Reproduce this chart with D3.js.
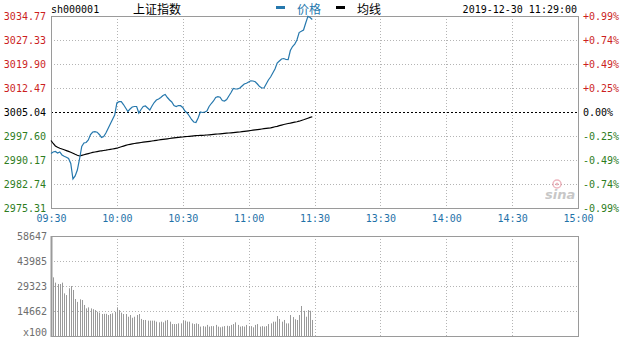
<!DOCTYPE html>
<html><head><meta charset="utf-8">
<script src="https://cdn.jsdelivr.net/npm/d3@7"></script>
<style>body{margin:0;background:#fff}svg{display:block}</style>
</head><body>
<svg id="c" width="621" height="339"></svg>
<script>
const prevClose = 3005.04;
const priceTicks = [3034.77,3027.33,3019.90,3012.47,3005.04,2997.60,2990.17,2982.74,2975.31];
const pctLabels = ["+0.99%","+0.74%","+0.49%","+0.25%","0.00%","-0.25%","-0.49%","-0.74%","-0.99%"];
const timeTicks = [0,30,60,90,120,150,180,210,240];
const timeLabels = ["09:30","10:00","10:30","11:00","11:30","13:30","14:00","14:30","15:00"];
const volTicks = [58647,43985,29323,14662,0];
const volLabels = ["58647","43985","29323","14662","x100"];

const price = [2992.19,2992.66,2992.81,2992.35,2992.66,2991.73,2991.33,2991.02,2990.64,2989.10,
2984.30,2985.23,2987.08,2990.49,2994.36,2995.44,2995.60,2996.37,2998.07,2998.85,
2998.94,2998.79,2998.07,2997.15,2997.46,2998.54,2999.93,3001.32,3002.72,3004.11,
3007.83,3008.23,3008.23,3007.36,3006.28,3005.19,3005.97,3006.59,3006.74,3006.74,
3004.73,3005.81,3006.74,3006.90,3006.28,3005.66,3006.90,3007.98,3008.76,3009.06,
3009.53,3010.15,3010.46,3009.53,3008.76,3008.14,3007.05,3006.74,3007.05,3006.99,
3006.43,3005.35,3004.73,3003.80,3002.72,3001.94,3001.79,3003.18,3005.04,3004.89,
3005.04,3005.35,3006.74,3007.67,3008.45,3009.53,3009.78,3009.62,3008.60,3008.45,
3008.91,3009.99,3011.08,3012.32,3012.16,3012.16,3012.47,3013.09,3013.71,3013.93,
3014.33,3014.70,3014.64,3014.39,3013.71,3012.93,3012.47,3012.47,3013.71,3014.95,
3015.88,3017.11,3018.35,3020.21,3020.83,3021.45,3021.60,3021.29,3021.23,3024.08,
3025.32,3026.09,3027.33,3029.65,3030.02,3030.43,3032.59,3034.67,3034.30,3033.68];

const avgPrice = [2996.22,2995.29,2994.51,2994.11,2993.83,2993.58,2993.34,2993.09,2992.84,2992.56,
2992.28,2991.94,2991.63,2991.42,2991.60,2991.79,2991.97,2992.16,2992.35,2992.53,
2992.66,2992.78,2992.90,2993.03,2993.12,2993.21,2993.34,2993.46,2993.58,2993.71,
2993.83,2994.05,2994.27,2994.48,2994.70,2994.89,2995.04,2995.16,2995.29,2995.41,
2995.50,2995.60,2995.69,2995.78,2995.88,2995.97,2996.06,2996.15,2996.28,2996.37,
2996.46,2996.56,2996.65,2996.74,2996.84,2996.93,2997.02,2997.11,2997.18,2997.24,
2997.30,2997.39,2997.45,2997.52,2997.58,2997.64,2997.70,2997.76,2997.80,2997.83,
2997.86,2997.92,2997.98,2998.04,2998.11,2998.17,2998.23,2998.29,2998.35,2998.41,
2998.48,2998.54,2998.60,2998.66,2998.72,2998.79,2998.85,2998.94,2999.03,2999.13,
2999.22,2999.31,2999.41,2999.50,2999.59,2999.68,2999.78,2999.87,2999.96,3000.06,
3000.15,3000.30,3000.46,3000.61,3000.80,3000.98,3001.17,3001.32,3001.48,3001.60,
3001.76,3001.88,3002.01,3002.19,3002.41,3002.63,3002.87,3003.12,3003.37,3003.58];

const volume = [34800,34400,31300,30500,30500,31300,25000,24000,28000,29300,
27000,21700,20000,21500,21100,18200,16200,16800,16200,15700,
15200,14200,13700,12900,13000,13000,12300,12900,13300,14200,
16800,15200,13700,12900,12900,11300,12300,10700,11300,12300,
12900,10000,9400,9400,9000,9000,9000,9000,8400,8000,
8400,8000,9000,9400,8400,7000,7000,7000,7400,7400,
9000,9000,8400,8400,7400,7000,7400,7000,5500,5800,
5500,6500,5500,5800,5800,6500,5500,5100,5500,5800,
6000,5800,6500,7000,8000,6500,5500,5800,5500,6500,
5800,5800,5100,6500,7000,5500,5800,5500,5800,7000,
7400,8400,8400,11700,10000,8400,9400,7400,7400,12300,
11100,9800,9400,12300,17600,14800,11300,15200,14800,9400];

const svg = d3.select("#c");
const mono = "'DejaVu Sans Mono', 'Liberation Mono', monospace";
const cjk = "'Noto Sans CJK SC', sans-serif";
const L = 51, R = 578;
const x = d3.scaleLinear().domain([0,240]).range([L, R]);
const y = d3.scaleLinear().domain([2975.31, 3034.77]).range([208, 16]);
const yv = d3.scaleLinear().domain([0, 58647]).range([336, 236]);
const crisp = v => Math.round(v) + 0.5;
const gridCol = "#b4b4b4", borderCol = "#9a9a9a";

// --- grids (price panel)
const g1 = svg.append("g");
g1.selectAll("line.h").data(priceTicks.filter(v => v !== prevClose)).enter().append("line")
  .attr("x1", L).attr("x2", R).attr("y1", d => crisp(y(d))).attr("y2", d => crisp(y(d)))
  .attr("stroke", gridCol).attr("stroke-dasharray", "1,2");
g1.selectAll("line.v").data(timeTicks.slice(1, -1)).enter().append("line")
  .attr("x1", d => crisp(x(d))).attr("x2", d => crisp(x(d))).attr("y1", y.range()[1]).attr("y2", y.range()[0])
  .attr("stroke", gridCol).attr("stroke-dasharray", "1,2");
g1.append("line").attr("x1", L).attr("x2", R).attr("y1", crisp(y(prevClose))).attr("y2", crisp(y(prevClose)))
  .attr("stroke", "#000").attr("stroke-dasharray", "2,2");
g1.append("rect").attr("x", L + 0.5).attr("y", 16.5).attr("width", R - L).attr("height", 192)
  .attr("fill", "none").attr("stroke", borderCol);

// --- grids (volume panel)
const g2 = svg.append("g");
g2.selectAll("line.h").data(volTicks.slice(1, -1)).enter().append("line")
  .attr("x1", L).attr("x2", R).attr("y1", d => crisp(yv(d))).attr("y2", d => crisp(yv(d)))
  .attr("stroke", gridCol).attr("stroke-dasharray", "1,2");
g2.selectAll("line.v").data(timeTicks.slice(1, -1)).enter().append("line")
  .attr("x1", d => crisp(x(d))).attr("x2", d => crisp(x(d))).attr("y1", 236).attr("y2", 336)
  .attr("stroke", gridCol).attr("stroke-dasharray", "1,2");

// volume bars
g2.selectAll("line.bar").data(volume).enter().append("line")
  .attr("x1", (d,i) => crisp(x(i))).attr("x2", (d,i) => crisp(x(i)))
  .attr("y1", 336).attr("y2", d => yv(d))
  .attr("stroke", "#999").attr("stroke-width", 1);
g2.append("rect").attr("x", L + 0.5).attr("y", 236.5).attr("width", R - L).attr("height", 100)
  .attr("fill", "none").attr("stroke", borderCol);
g2.append("line").attr("x1", L + 0.5).attr("x2", L + 0.5).attr("y1", 236).attr("y2", 337).attr("stroke", borderCol).attr("stroke-width", 2);

// --- lines
const idx = d3.range(price.length);
svg.append("path").datum(idx)
  .attr("d", d3.line().x(i => x(i)).y(i => y(avgPrice[i])))
  .attr("fill", "none").attr("stroke", "#000").attr("stroke-width", 1.2);
svg.append("path").datum(idx)
  .attr("d", d3.line().x(i => x(i)).y(i => y(price[i])))
  .attr("fill", "none").attr("stroke", "#2678ad").attr("stroke-width", 1.2);

// --- axes
const colorFor = v => v > prevClose ? "#cc1f1f" : (v < prevClose ? "#2e7d1e" : "#000");
const leftAx = svg.append("g").attr("transform", `translate(${L - 5},0)`)
  .call(d3.axisLeft(y).tickValues(priceTicks).tickSize(0).tickPadding(0).tickFormat(d3.format(".2f")));
leftAx.select(".domain").remove();
leftAx.selectAll("text").attr("font-family", mono).attr("font-size", 10).attr("fill", d => colorFor(d));

const rightAx = svg.append("g").attr("transform", `translate(${R + 5},0)`)
  .call(d3.axisRight(d3.scalePoint().domain(pctLabels).range([y(priceTicks[0]), y(priceTicks[priceTicks.length-1])])).tickSize(0).tickPadding(0));
rightAx.select(".domain").remove();
rightAx.selectAll("text").attr("font-family", mono).attr("font-size", 10)
  .attr("fill", (d,i) => colorFor(priceTicks[i]));

const timeAx = svg.append("g").attr("transform", `translate(0,215)`)
  .call(d3.axisBottom(x).tickValues(timeTicks).tickSize(0).tickPadding(0).tickFormat((d,i) => timeLabels[i]));
timeAx.select(".domain").remove();
timeAx.selectAll("text").attr("font-family", mono).attr("font-size", 10).attr("fill", "#1f72a8");

const volAx = svg.append("g").attr("transform", `translate(${L - 4},0)`)
  .call(d3.axisLeft(yv).tickValues(volTicks).tickSize(0).tickPadding(0).tickFormat((d,i) => volLabels[i]));
volAx.select(".domain").remove();
volAx.selectAll("text").attr("font-family", mono).attr("font-size", 10).attr("fill", "#6e6e6e");
volAx.selectAll("text").filter((d,i) => i === volTicks.length - 1).attr("dy", "-0.05em");

// --- header
svg.append("text").attr("x", L).attr("y", 12.5).attr("font-family", mono).attr("font-size", 10).attr("fill", "#000").text("sh000001");
svg.append("text").attr("x", 133).attr("y", 13.5).attr("font-family", cjk).attr("font-size", 12).attr("fill", "#000").text("上证指数");
svg.append("rect").attr("x", 276).attr("y", 6).attr("width", 9).attr("height", 3).attr("fill", "#2678ad");
svg.append("text").attr("x", 297).attr("y", 13.5).attr("font-family", cjk).attr("font-size", 12).attr("fill", "#2678ad").text("价格");
svg.append("rect").attr("x", 336).attr("y", 6).attr("width", 9).attr("height", 3).attr("fill", "#000");
svg.append("text").attr("x", 357).attr("y", 13.5).attr("font-family", cjk).attr("font-size", 12).attr("fill", "#000").text("均线");
svg.append("text").attr("x", R - 1).attr("y", 12.5).attr("text-anchor", "end").attr("font-family", mono).attr("font-size", 10).attr("fill", "#000").text("2019-12-30 11:29:00");

// --- watermark
const wm = svg.append("g").attr("opacity", 0.55);
wm.append("circle").attr("cx", 557).attr("cy", 184).attr("r", 4).attr("fill", "none").attr("stroke", "#e07a8a").attr("stroke-width", 1.5);
wm.append("circle").attr("cx", 557).attr("cy", 184).attr("r", 1.5).attr("fill", "#e07a8a");
wm.append("text").attr("x", 545).attr("y", 199).attr("font-family", "'DejaVu Sans', sans-serif").attr("font-style", "italic").attr("font-weight", "bold")
  .attr("font-size", 13).attr("fill", "#9a9a9a").text("sina");
</script>
</body></html>
